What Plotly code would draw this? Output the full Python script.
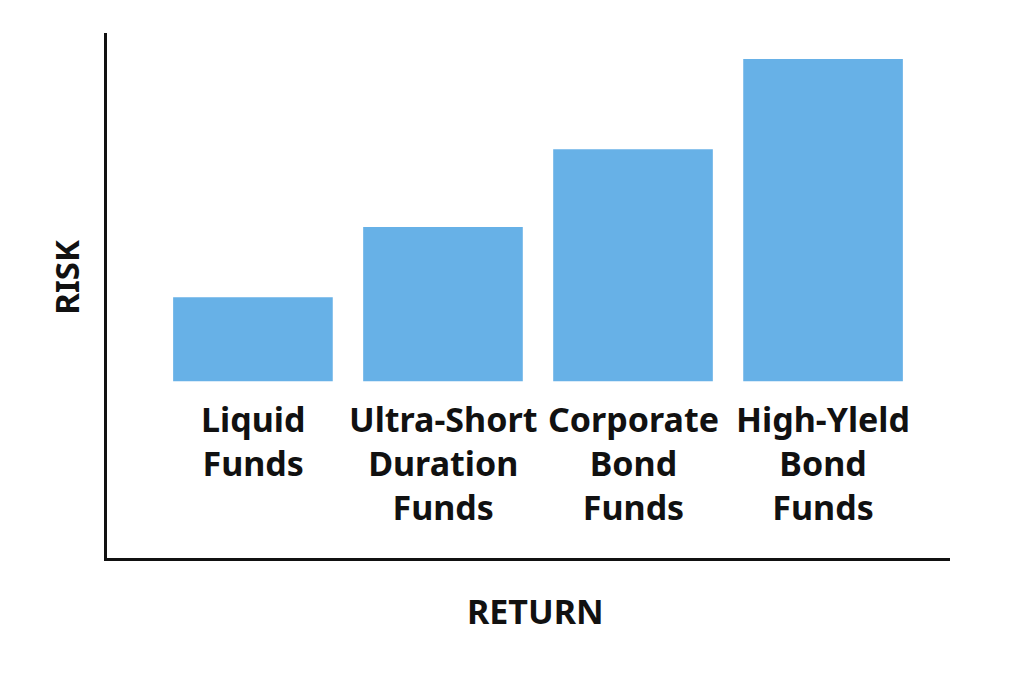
import plotly.graph_objects as go

categories = ["Liquid<br>Funds", "Ultra-Short<br>Duration<br>Funds", "Corporate<br>Bond<br>Funds", "High-Yleld<br>Bond<br>Funds"]
risk_values = [2.0, 3.67, 5.52, 7.67]
BAR_BASE = 4.21
BAR_COLOR = "#67B1E7"
FONT = "Noto Sans"

x_idx = list(range(len(categories)))

fig = go.Figure()
fig.add_trace(go.Bar(
    x=x_idx, y=risk_values, base=[BAR_BASE] * len(risk_values),
    width=0.84, marker=dict(color=BAR_COLOR, line=dict(width=0)),
    hoverinfo="skip",
))

for i, cat in enumerate(categories):
    fig.add_annotation(
        x=i, xref="x", y=0.312, yref="paper", yanchor="top",
        text=cat, showarrow=False,
        font=dict(family=FONT, size=34, color="#111111", weight="bold"),
        align="center",
    )

fig.add_annotation(x=0.508, xref="paper", y=-0.10, yref="paper", yanchor="middle",
                   text="RETURN", showarrow=False,
                   font=dict(family=FONT, size=34, color="#111111", weight="bold"))
fig.add_annotation(x=-0.048, xref="paper", y=0.535, yref="paper", xanchor="center",
                   text="RISK", showarrow=False, textangle=-90,
                   font=dict(family=FONT, size=33, color="#111111", weight="bold"))

fig.update_layout(
    width=1024, height=683,
    margin=dict(l=99, r=82, t=25, b=133),
    paper_bgcolor="white", plot_bgcolor="white",
    showlegend=False,
    xaxis=dict(range=[-0.768, 3.668], showgrid=False, zeroline=False,
               showticklabels=False, ticks="", showline=True,
               linecolor="#111111", linewidth=3),
    yaxis=dict(range=[0, 12.5], showgrid=False, zeroline=False,
               showticklabels=False, ticks="", showline=True,
               linecolor="#111111", linewidth=3),
)

fig.write_html("out.html", config={"displayModeBar": False})
